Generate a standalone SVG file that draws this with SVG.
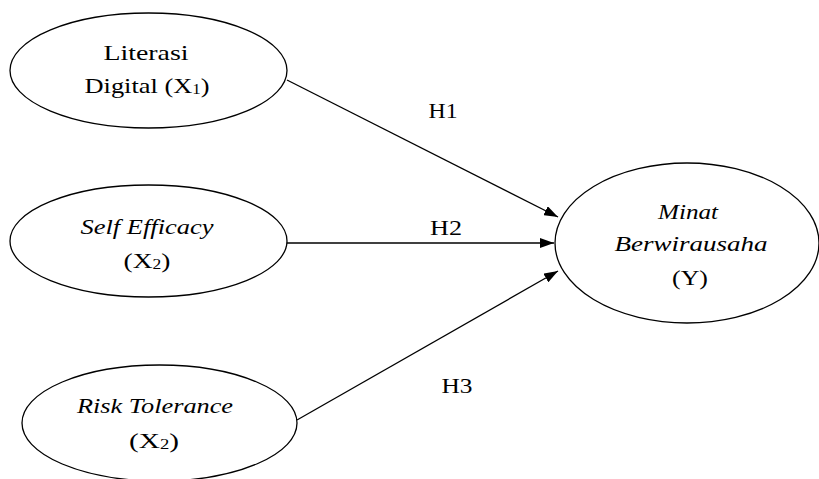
<svg xmlns="http://www.w3.org/2000/svg" width="819" height="479" viewBox="0 0 819 479">
<style>
.node ellipse{fill:#fff;stroke:#000;stroke-width:1.3}
.t{font-family:'Liberation Serif','Times New Roman',Times,serif;font-size:22px;fill:#000;text-anchor:middle}
.it{font-style:italic}
.sub{font-size:14px}
.edge{stroke:#000;stroke-width:1.3;fill:none;marker-end:url(#ah)}
</style>
<defs>
<marker id="ah" viewBox="0 0 14 10" refX="14" refY="5" markerWidth="14" markerHeight="10" markerUnits="userSpaceOnUse" orient="auto">
<path d="M0,0 L14,5 L0,10 Z" fill="#000"/>
</marker>
</defs>
<rect width="819" height="479" fill="#fff"/>
<g id="connectors">
<path class="edge" d="M287,80 L558,217"/>
<path class="edge" d="M287,243 L554,243"/>
<path class="edge" d="M297,420 L558,271"/>
<text class="t" x="443" y="118" textLength="29" lengthAdjust="spacingAndGlyphs">H1</text>
<text class="t" x="446" y="235" textLength="32" lengthAdjust="spacingAndGlyphs">H2</text>
<text class="t" x="457" y="393" textLength="31" lengthAdjust="spacingAndGlyphs">H3</text>
</g>
<g id="x1" class="node">
<ellipse cx="148.5" cy="70.5" rx="138.5" ry="57.5"/>
<text class="t" x="146" y="60" textLength="85" lengthAdjust="spacingAndGlyphs">Literasi</text>
<text class="t" x="147" y="93" textLength="125" lengthAdjust="spacingAndGlyphs">Digital (X<tspan class="sub" dy="1">1</tspan><tspan dy="-1">)</tspan></text>
</g>
<g id="x2" class="node">
<ellipse cx="148.5" cy="241" rx="138.5" ry="56"/>
<text class="t it" x="147" y="234" textLength="133" lengthAdjust="spacingAndGlyphs">Self Efficacy</text>
<text class="t" x="147" y="268" textLength="47" lengthAdjust="spacingAndGlyphs">(X<tspan class="sub" dy="1">2</tspan><tspan dy="-1">)</tspan></text>
</g>
<g id="x3" class="node">
<ellipse cx="159.5" cy="423" rx="137.5" ry="58"/>
<text class="t it" x="155" y="413" textLength="156" lengthAdjust="spacingAndGlyphs">Risk Tolerance</text>
<text class="t" x="154" y="448" textLength="50" lengthAdjust="spacingAndGlyphs">(X<tspan class="sub" dy="1">2</tspan><tspan dy="-1">)</tspan></text>
</g>
<g id="y" class="node">
<ellipse cx="687" cy="243" rx="132" ry="80"/>
<text class="t it" x="688" y="219" textLength="60" lengthAdjust="spacingAndGlyphs">Minat</text>
<text class="t it" x="691" y="251" textLength="153" lengthAdjust="spacingAndGlyphs">Berwirausaha</text>
<text class="t" x="690" y="285" textLength="36" lengthAdjust="spacingAndGlyphs">(Y)</text>
</g>
</svg>
